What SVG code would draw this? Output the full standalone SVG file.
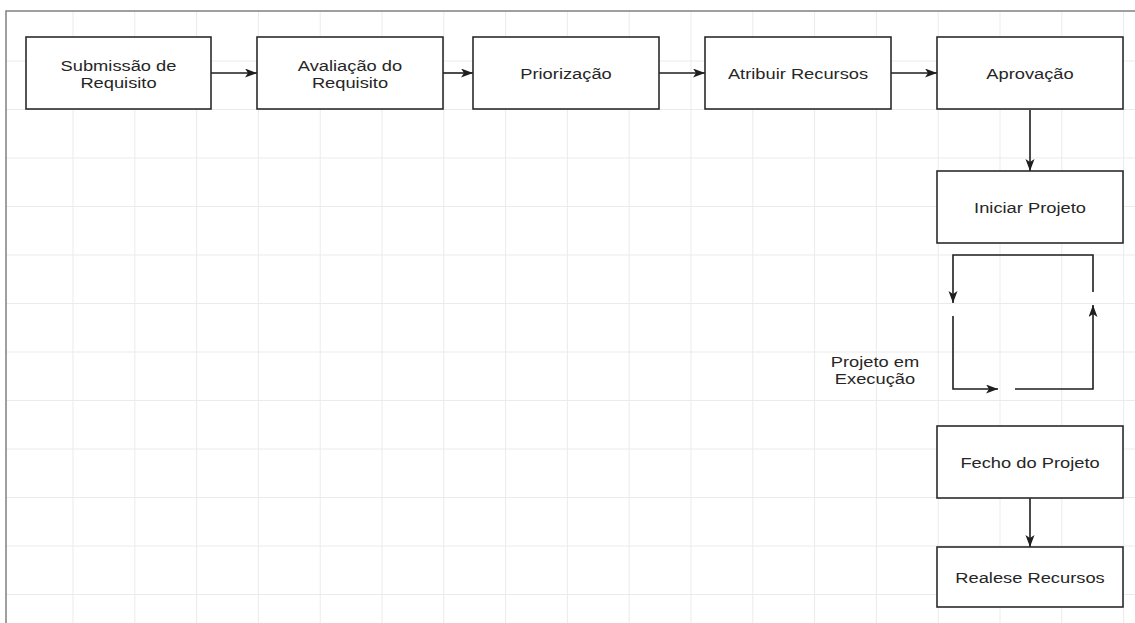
<svg xmlns="http://www.w3.org/2000/svg" width="1135" height="623" viewBox="0 0 1135 623">
<defs>
<style>
.grid{stroke:#ebebeb;stroke-width:1;fill:none}
.frame{stroke:#808080;stroke-width:1.5;fill:none}
.box{fill:#ffffff;stroke:#2b2b2b;stroke-width:1.6}
.lbl{font-family:"Liberation Sans",Arial,sans-serif;font-size:15px;fill:#262626;text-anchor:middle}
.edge{stroke:#1e1e1e;stroke-width:1.6;fill:none;marker-end:url(#arr)}
</style>
<marker id="arr" markerUnits="userSpaceOnUse" markerWidth="13" markerHeight="10" refX="12" refY="4.5" orient="auto">
<path d="M0,0 L12,4.5 L0,9 L3,4.5 z" fill="#1e1e1e"/>
</marker>
</defs>
<rect x="0" y="0" width="1135" height="623" fill="#ffffff"/>
<path class="grid" d="M73,11V623M134.8,11V623M196.6,11V623M258.4,11V623M320.2,11V623M382,11V623M443.8,11V623M505.6,11V623M567.4,11V623M629.2,11V623M691,11V623M752.8,11V623M814.6,11V623M876.4,11V623M938.2,11V623M1000,11V623M1061.8,11V623M1123.6,11V623M6,61H1135M6,109.5H1135M6,158H1135M6,206.5H1135M6,255H1135M6,303.5H1135M6,352H1135M6,400.5H1135M6,449H1135M6,497.5H1135M6,546H1135M6,594.5H1135"/>
<path class="frame" d="M6,623V11H1135"/>
<g id="connectors">
<line class="edge" x1="211" y1="73" x2="257" y2="73"/>
<line class="edge" x1="443" y1="73" x2="473" y2="73"/>
<line class="edge" x1="659" y1="73" x2="705" y2="73"/>
<line class="edge" x1="891" y1="73" x2="937" y2="73"/>
<line class="edge" x1="1030" y1="110" x2="1030" y2="171"/>
<path class="edge" d="M1093,292V255H953V303"/>
<path class="edge" d="M953,316V389H998"/>
<path class="edge" d="M1015,389H1093V305"/>
<line class="edge" x1="1030" y1="498" x2="1030" y2="547"/>
</g>
<g id="n1"><rect class="box" x="26" y="37" width="185" height="72"/>
<text class="lbl" transform="translate(118.5,71) scale(1.22,1)">Submissão de</text>
<text class="lbl" transform="translate(118.5,88) scale(1.22,1)">Requisito</text></g>
<g id="n2"><rect class="box" x="257" y="37" width="186" height="72"/>
<text class="lbl" transform="translate(350,71) scale(1.22,1)">Avaliação do</text>
<text class="lbl" transform="translate(350,88) scale(1.22,1)">Requisito</text></g>
<g id="n3"><rect class="box" x="473" y="37" width="186" height="72"/>
<text class="lbl" transform="translate(566,79) scale(1.22,1)">Priorização</text></g>
<g id="n4"><rect class="box" x="705" y="37" width="186" height="72"/>
<text class="lbl" transform="translate(798,79) scale(1.22,1)">Atribuir Recursos</text></g>
<g id="n5"><rect class="box" x="937" y="37" width="186" height="72"/>
<text class="lbl" transform="translate(1030,79) scale(1.22,1)">Aprovação</text></g>
<g id="n6"><rect class="box" x="937" y="171" width="186" height="72"/>
<text class="lbl" transform="translate(1030,213) scale(1.22,1)">Iniciar Projeto</text></g>
<g id="n7"><text class="lbl" transform="translate(875,367) scale(1.22,1)">Projeto em</text>
<text class="lbl" transform="translate(875,384) scale(1.22,1)">Execução</text></g>
<g id="n8"><rect class="box" x="937" y="426" width="186" height="72"/>
<text class="lbl" transform="translate(1030,468) scale(1.22,1)">Fecho do Projeto</text></g>
<g id="n9"><rect class="box" x="937" y="547" width="186" height="60"/>
<text class="lbl" transform="translate(1030,583) scale(1.22,1)">Realese Recursos</text></g>
</svg>
